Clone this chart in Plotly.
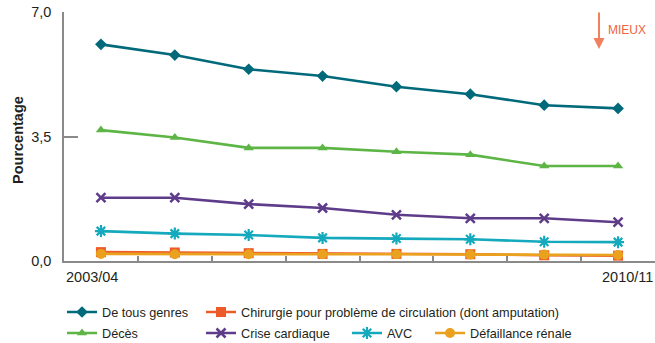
import plotly.graph_objects as go

# Periods on the horizontal axis
periods = ["2003/04", "2004/05", "2005/06", "2006/07",
           "2007/08", "2008/09", "2009/10", "2010/11"]

# Percentage values per series
tous_genres = [6.09, 5.79, 5.39, 5.20, 4.90, 4.69, 4.38, 4.29]
deces = [3.68, 3.47, 3.18, 3.18, 3.07, 2.99, 2.67, 2.67]
chirurgie = [0.25, 0.24, 0.22, 0.20, 0.20, 0.19, 0.16, 0.15]
crise_cardiaque = [1.78, 1.78, 1.60, 1.49, 1.30, 1.20, 1.20, 1.09]
avc = [0.84, 0.77, 0.73, 0.65, 0.63, 0.61, 0.54, 0.53]
defaillance = [0.20, 0.19, 0.19, 0.19, 0.19, 0.18, 0.18, 0.17]

y_ticks = [0.0, 3.5, 7.0]

REGULAR = "Liberation Sans, Arial, sans-serif"
TEXT = "#231F20"

W, H = 655, 343
ML, MR, MT, MB = 64, 0, 12, 82
plot_w = W - ML - MR
plot_h = H - MT - MB

# name, values, colour, marker, legend id, legend left (px), legend row centre (px)
series = [
    ("De tous genres", tous_genres, "#00697A", dict(symbol="diamond", size=9),
     "legend", 62, 312),
    ("Décès", deces, "#5DB546", dict(symbol="triangle-up", size=9),
     "legend2", 62, 333),
    ("Chirurgie pour problème de circulation (dont amputation)", chirurgie, "#EE5B2B",
     dict(symbol="square", size=10), "legend3", 201, 312),
    ("Crise cardiaque", crise_cardiaque, "#5E3C8A",
     dict(symbol="x-thin", size=9, line=dict(width=2.5, color="#5E3C8A")),
     "legend4", 201, 333),
    ("AVC", avc, "#14A9BC",
     dict(symbol="asterisk", size=10, line=dict(width=2.2, color="#14A9BC")),
     "legend5", 347, 333),
    ("Défaillance rénale", defaillance, "#E9A11E", dict(symbol="circle", size=10),
     "legend6", 430, 333),
]

LEGEND_SIZE = 12.7
item_h = max(LEGEND_SIZE * 1.3, 16) + 3

fig = go.Figure()
legends = {}
for name, vals, color, marker, leg, lx, ly in series:
    fig.add_trace(go.Scatter(
        x=periods, y=vals, name=name, mode="lines+markers",
        line=dict(color=color, width=2.6),
        marker=dict(color=color, **marker),
        legend=leg,
    ))
    top = ly - 5 - item_h / 2
    legends[leg] = dict(
        x=lx / W, y=(H - top) / H,
        xref="container", yref="container", xanchor="left", yanchor="top",
        orientation="v", bgcolor="rgba(0,0,0,0)", borderwidth=0,
        font=dict(family=REGULAR, size=LEGEND_SIZE, color=TEXT),
        itemwidth=30, tracegroupgap=0,
    )

fig.update_layout(
    width=W, height=H,
    margin=dict(l=ML, r=MR, t=MT, b=MB, autoexpand=False),
    paper_bgcolor="white", plot_bgcolor="white",
    separators=", ",
    showlegend=True,
    **legends,
    xaxis=dict(
        type="category", range=[-0.5, len(periods) - 0.5],
        showgrid=False, zeroline=False,
        showline=True, linecolor="#8A8A8A", linewidth=1.5,
        ticks="inside", ticklen=5, tickwidth=1.5, tickcolor="#8A8A8A",
        tickson="boundaries", showticklabels=False,
    ),
    yaxis=dict(
        range=[0, 7], tickvals=y_ticks, tickformat=".1f",
        showgrid=False, zeroline=False,
        showline=True, linecolor="#8A8A8A", linewidth=1.5,
        ticks="inside", ticklen=14, tickwidth=1.5, tickcolor="#8A8A8A",
        ticklabelstandoff=8,
        tickfont=dict(family=REGULAR, size=14.5, color=TEXT),
    ),
)

# First and last period labels at the ends of the axis
fig.add_annotation(text=periods[0], xref="paper", yref="paper", x=0, y=0,
                   xanchor="left", yanchor="middle", yshift=-16, showarrow=False,
                   font=dict(family=REGULAR, size=14.5, color=TEXT))
fig.add_annotation(text=periods[-1], xref="paper", yref="paper", x=1, y=0,
                   xanchor="right", yanchor="middle", yshift=-16, showarrow=False,
                   font=dict(family=REGULAR, size=14.5, color=TEXT))

# Vertical axis title
fig.add_annotation(text="<b>Pourcentage</b>", xref="paper", yref="paper",
                   x=(18 - ML) / plot_w, y=(261 - 140) / plot_h,
                   xanchor="center", yanchor="middle", textangle=-90, showarrow=False,
                   font=dict(family=REGULAR, size=14.5, color=TEXT))

# "Lower is better" marker
fig.add_annotation(text="", xref="paper", yref="paper",
                   x=(599 - ML) / plot_w, y=(261 - 49) / plot_h,
                   ax=0, ay=-38, showarrow=True, arrowhead=2, arrowsize=1.1,
                   arrowwidth=2, arrowcolor="#F0805E")
fig.add_annotation(text="MIEUX", xref="paper", yref="paper",
                   x=(606 - ML) / plot_w, y=(261 - 30) / plot_h,
                   xanchor="left", yanchor="middle", showarrow=False,
                   font=dict(family=REGULAR, size=12, color="#F0643C"))

fig.write_html("out.html")
